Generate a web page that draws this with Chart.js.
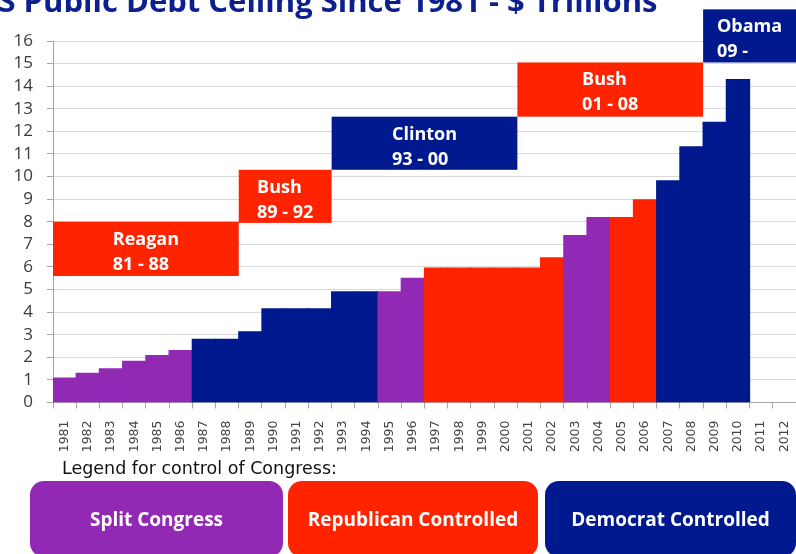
<!DOCTYPE html>
<html>
<head>
<meta charset="utf-8">
<script src="https://cdn.jsdelivr.net/npm/chart.js"></script>
<style>
  html, body { margin: 0; padding: 0; background: #fff; }
  #wrap { position: relative; width: 796px; height: 554px; overflow: hidden; }
  #chart { position: absolute; left: 0; top: 0; }
  .title { position: absolute; left: -25px; top: -21px; font: bold 31px "Open Sans"; color: #0c1f8e; white-space: nowrap; }
  .legend-label { position: absolute; left: 62px; top: 458px; font: 17.5px "DejaVu Sans"; color: #111; }
  .cbox { position: absolute; top: 481px; height: 76px; border-radius: 14px; color: #fff;
          font: bold 19px "Open Sans"; display: flex; align-items: center; justify-content: center; }
</style>
</head>
<body>
<div id="wrap">
  <canvas id="chart" width="796" height="554"></canvas>
  <div class="title">US Public Debt Ceiling Since 1981 - $ Trillions</div>
  <div class="legend-label">Legend for control of Congress:</div>
  <div class="cbox" style="left:30px;width:253px;background:#9229b5">Split Congress</div>
  <div class="cbox" style="left:288px;width:250px;background:#ff2300">Republican Controlled</div>
  <div class="cbox" style="left:545px;width:251px;background:#00198f">Democrat Controlled</div>
</div>
<script>
const years = ["1981","1982","1983","1984","1985","1986","1987","1988","1989","1990","1991","1992","1993","1994","1995","1996",
               "1997","1998","1999","2000","2001","2002","2003","2004","2005","2006","2007","2008","2009","2010","2011","2012"];
const ceiling = [1.079, 1.29, 1.49, 1.82, 2.079, 2.3, 2.8, 2.8, 3.123, 4.145, 4.145, 4.145, 4.9, 4.9, 4.9, 5.5,
                 5.95, 5.95, 5.95, 5.95, 5.95, 6.4, 7.384, 8.184, 8.184, 8.965, 9.815, 11.315, 12.394, 14.294, null, null];
// S = split, R = republican, D = democrat
const control = ["S","S","S","S","S","S","D","D","D","D","D","D","D","D","S","S",
                 "R","R","R","R","R","R","S","S","R","R","D","D","D","D","D","D"];

const presidents = ["Reagan", "Bush", "Clinton", "Bush", "Obama"];
const terms = ["81 - 88", "89 - 92", "93 - 00", "01 - 08", "09 -"];
const termFirst = ["1981", "1989", "1993", "2001", "2009"];
const termLast = ["1988", "1992", "2000", "2008", "2012"];
const termParty = ["R", "R", "D", "R", "D"];
const boxLow = [5.6, 7.95, 10.3, 12.65, 15.05];
const boxHigh = [8.0, 10.3, 12.65, 15.05, 17.4];

const partyColor = { S: "#9229b5", R: "#ff2300", D: "#00198f" };

const presidentBoxes = {
    id: "presidentBoxes",
    afterDatasetsDraw(chart) {
        const ctx = chart.ctx;
        const x = chart.scales.x, y = chart.scales.y;
        const half = (x.getPixelForValue(1) - x.getPixelForValue(0)) / 2;
        ctx.save();
        presidents.forEach((name, i) => {
            const left = x.getPixelForValue(years.indexOf(termFirst[i])) - half;
            const right = x.getPixelForValue(years.indexOf(termLast[i])) + half;
            const top = y.getPixelForValue(boxHigh[i]);
            const bottom = y.getPixelForValue(boxLow[i]);
            ctx.fillStyle = partyColor[termParty[i]];
            ctx.fillRect(left, top, right - left, bottom - top);

            ctx.font = "bold 18px 'Open Sans'";
            ctx.fillStyle = "#fff";
            ctx.textBaseline = "alphabetic";
            const w = Math.max(ctx.measureText(name).width, ctx.measureText(terms[i]).width);
            const tx = (left + right) / 2 - w / 2;
            ctx.fillText(name, tx, top + 23);
            ctx.fillText(terms[i], tx, top + 48);
        });
        ctx.restore();
    }
};

new Chart(document.getElementById("chart"), {
    type: "bar",
    data: {
        labels: years,
        datasets: [{
            data: ceiling,
            backgroundColor: control.map(c => partyColor[c]),
            borderWidth: 0,
            inflateAmount: 0.6,
            barPercentage: 1,
            categoryPercentage: 1
        }]
    },
    options: {
        responsive: false,
        animation: false,
        devicePixelRatio: 1,
        layout: { padding: { top: 41, right: 0, bottom: 0, left: 0 } },
        plugins: {
            legend: { display: false },
            tooltip: { enabled: false }
        },
        scales: {
            x: {
                grid: { drawOnChartArea: false, drawTicks: true, tickLength: 6, tickColor: "#a6a6a6" },
                border: { color: "#a6a6a6" },
                ticks: {
                    minRotation: 90, maxRotation: 90, autoSkip: false, padding: 12,
                    color: "#444", font: { family: "DejaVu Sans", size: 12.5 }
                },
                afterFit(axis) {
                    axis.height = 151.5;
                    axis.paddingLeft = 0;
                    axis.paddingRight = 0;
                }
            },
            y: {
                min: 0, max: 16,
                grid: { color: "#dadada", tickLength: 6, tickColor: "#a6a6a6" },
                border: { color: "#a6a6a6" },
                ticks: {
                    stepSize: 1, autoSkip: false, padding: 14,
                    color: "#3a3a3a", font: { family: "Open Sans", size: 17 }
                },
                afterFit(axis) {
                    axis.width = 53;
                    axis.paddingTop = 0;
                    axis.paddingBottom = 0;
                }
            }
        }
    },
    plugins: [presidentBoxes]
});
</script>
</body>
</html>
